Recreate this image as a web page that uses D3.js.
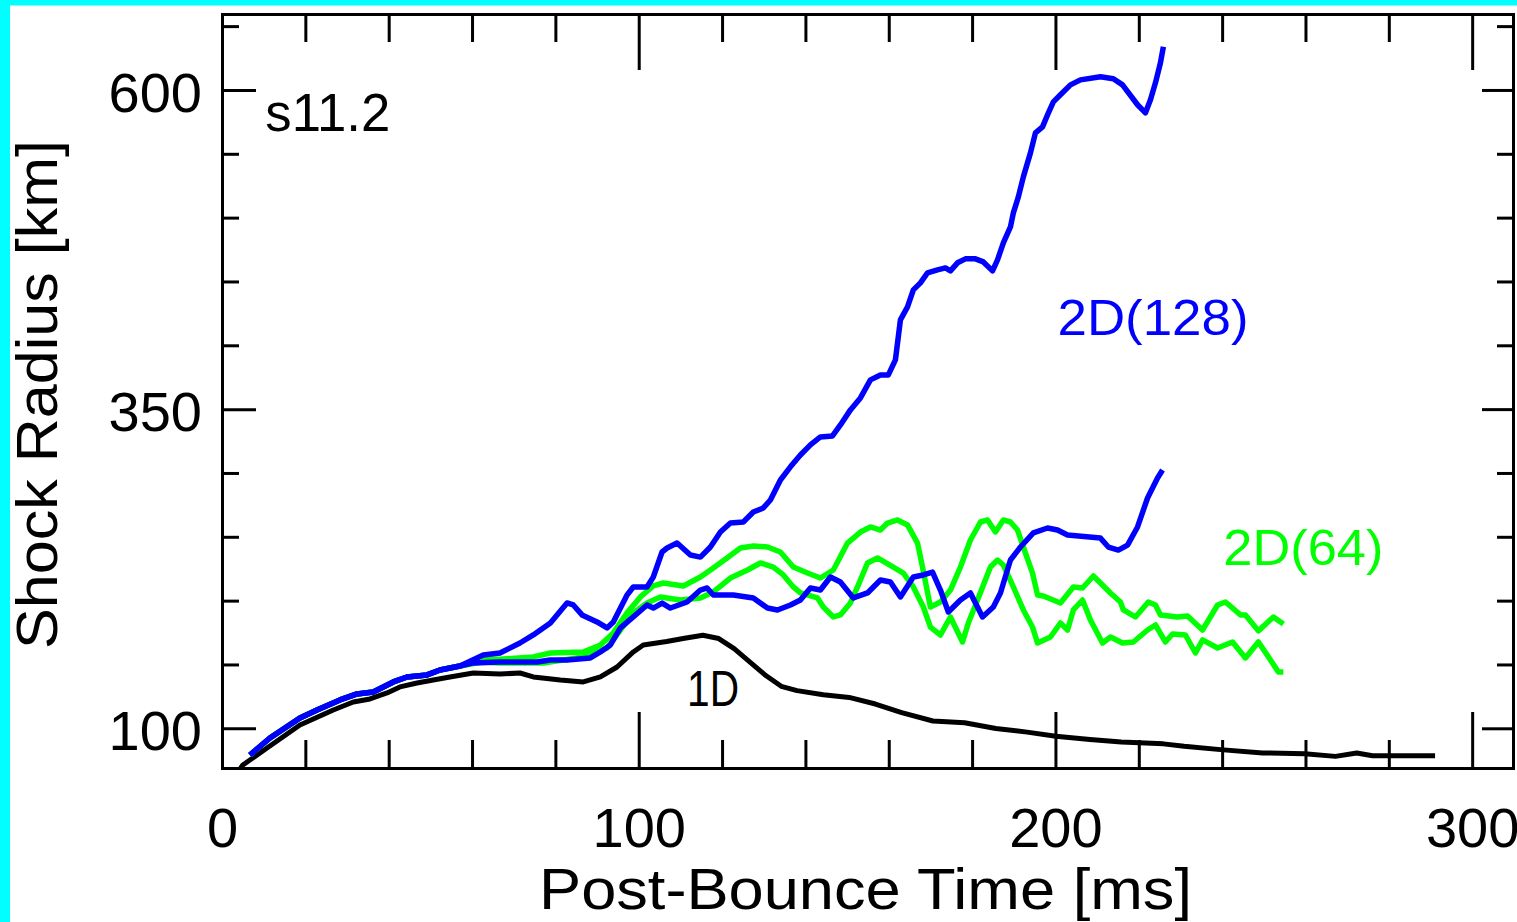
<!DOCTYPE html>
<html><head><meta charset="utf-8">
<script src="https://cdn.jsdelivr.net/npm/d3@7"></script>
<style>html,body{margin:0;padding:0;background:#fff;overflow:hidden}</style>
</head><body><svg id="chart" width="1517" height="922"></svg>
<script>
// ---------- DATA ----------
// 1D run
const t1D = [4.3, 5.0, 10.8, 18.7, 26.7, 31.5, 35.5, 39.6, 42.7, 46.8, 50.7, 54.7, 60.3, 66.7, 71.5, 74.7, 81.2, 86.7, 90.8, 94.8, 98.7, 101.1, 106.7, 111.0, 115.4, 119.2, 122.9, 126.7, 130.5, 134.2, 138.0, 144.3, 150.5, 156.8, 163.1, 170.6, 178.2, 185.7, 193.2, 200.1, 208.3, 215.8, 225.9, 230.9, 239.6, 249.7, 259.8, 267.2, 272.3, 276.1, 291.1];
const r1D = [68.0, 71.3, 84.6, 102.6, 114.3, 120.6, 123.0, 127.7, 132.4, 135.5, 137.8, 140.2, 143.3, 142.5, 143.3, 140.2, 137.8, 136.3, 140.2, 148.0, 159.8, 165.3, 168.0, 170.5, 172.9, 170.3, 162.4, 151.9, 141.3, 132.9, 129.5, 126.3, 124.2, 119.0, 112.3, 105.7, 104.4, 99.9, 97.0, 93.8, 91.2, 89.3, 87.8, 85.9, 83.3, 80.7, 80.1, 78.0, 80.7, 78.5, 78.5];

// 2D(128), upper curve
const t128a = [6.7, 11.5, 18.7, 22.8, 28.3, 32.4, 36.3, 41.1, 44.4, 49.2, 52.3, 57.1, 62.7, 66.7, 71.5, 74.7, 78.8, 82.8, 84.3, 86.4, 90.0, 92.4, 93.9, 97.2, 98.7, 102.0, 103.5, 105.6, 106.8, 109.2, 112.4, 114.8, 117.2, 119.6, 122.0, 125.1, 127.5, 129.9, 131.6, 134.0, 136.4, 138.8, 141.2, 143.6, 146.5, 148.4, 150.8, 153.2, 155.6, 158.0, 159.9, 161.6, 162.8, 164.5, 165.9, 167.6, 169.3, 171.7, 173.6, 174.8, 176.5, 178.4, 180.8, 182.7, 184.9, 186.1, 187.5, 189.2, 189.9, 191.1, 192.3, 194.0, 195.2, 196.9, 198.1, 199.5, 201.2, 203.6, 206.0, 210.8, 213.9, 216.1, 219.7, 221.6, 222.8, 224.0, 225.2, 225.9];
const r128a = [79.1, 92.4, 108.1, 114.3, 122.2, 126.9, 128.4, 136.3, 140.2, 141.8, 145.7, 148.8, 157.4, 159.0, 166.8, 173.1, 182.5, 198.2, 196.6, 188.8, 183.3, 178.6, 183.3, 204.4, 210.7, 210.7, 218.5, 238.1, 241.2, 245.1, 235.7, 234.1, 242.0, 253.7, 260.8, 261.6, 269.4, 272.6, 278.8, 294.5, 304.8, 314.1, 322.0, 328.2, 329.0, 337.6, 349.4, 358.8, 372.9, 376.8, 376.8, 388.6, 419.9, 430.1, 443.4, 448.9, 456.7, 459.1, 460.6, 458.3, 464.6, 467.7, 467.7, 465.3, 458.3, 466.9, 480.2, 492.7, 503.7, 516.2, 531.9, 550.7, 566.4, 571.1, 580.5, 590.7, 596.2, 604.0, 607.9, 610.3, 608.8, 604.0, 588.4, 582.1, 592.3, 605.6, 621.3, 633.8];

// 2D(128), lower curve
const t128b = [6.7, 11.5, 18.7, 22.8, 28.3, 32.4, 36.3, 41.1, 44.4, 49.2, 52.3, 57.1, 60.3, 66.7, 75.6, 78.8, 82.8, 88.4, 90.8, 93.2, 95.6, 98.7, 102.0, 103.5, 105.6, 107.6, 111.6, 114.8, 116.4, 117.9, 122.7, 127.5, 130.9, 133.3, 136.4, 138.8, 141.2, 143.6, 146.0, 148.4, 151.5, 154.9, 158.0, 160.4, 162.8, 165.9, 168.3, 170.5, 172.4, 174.3, 177.2, 179.6, 182.5, 185.1, 186.8, 189.2, 191.6, 194.7, 198.1, 200.5, 202.9, 210.8, 212.7, 215.1, 217.3, 219.7, 222.1, 224.5, 225.7];
const r128b = [79.1, 92.4, 108.1, 114.3, 122.2, 126.9, 128.4, 136.3, 140.2, 141.8, 145.7, 148.8, 151.2, 151.9, 151.9, 153.5, 153.5, 155.1, 159.8, 165.3, 178.6, 187.2, 196.6, 194.2, 198.1, 194.2, 198.9, 208.3, 209.9, 204.4, 204.4, 202.1, 194.2, 192.7, 196.6, 200.5, 209.9, 208.3, 218.5, 214.6, 202.1, 206.0, 216.2, 214.6, 202.9, 218.5, 220.1, 222.4, 208.3, 191.1, 200.5, 206.0, 187.2, 195.0, 206.0, 231.8, 242.0, 253.0, 256.9, 255.3, 251.4, 249.0, 242.0, 239.6, 243.5, 257.7, 280.4, 296.0, 302.3];

// 2D(64), upper curve
const t64a = [6.7, 11.5, 18.7, 22.8, 28.3, 32.4, 36.3, 41.1, 44.4, 49.2, 52.3, 57.1, 62.7, 66.7, 74.7, 78.8, 86.7, 90.8, 93.9, 97.2, 100.4, 103.5, 105.9, 110.7, 114.8, 117.9, 121.2, 124.4, 127.5, 130.9, 134.0, 137.1, 140.5, 143.6, 146.7, 150.1, 153.2, 155.6, 158.0, 159.7, 162.1, 164.5, 166.9, 168.1, 170.0, 172.4, 174.8, 177.2, 179.6, 182.0, 183.7, 185.6, 187.5, 189.2, 190.9, 192.8, 194.5, 195.7, 197.1, 201.2, 204.3, 206.5, 209.1, 210.8, 213.2, 215.6, 216.3, 219.2, 222.3, 224.0, 225.2, 229.3, 231.7, 235.3, 238.9, 240.8, 244.4, 245.6, 248.7, 252.3, 254.7];
const r64a = [79.1, 92.4, 108.1, 114.3, 122.2, 126.9, 128.4, 136.3, 140.2, 141.8, 145.7, 148.8, 154.0, 154.0, 155.9, 159.0, 159.8, 165.3, 174.7, 190.4, 202.9, 211.5, 213.8, 211.5, 218.5, 225.6, 233.4, 241.2, 242.8, 242.0, 238.1, 226.3, 221.6, 217.7, 224.0, 245.1, 253.7, 257.7, 255.3, 260.8, 263.2, 259.3, 245.1, 226.3, 195.0, 198.9, 208.3, 226.3, 247.5, 261.6, 263.2, 253.8, 263.2, 261.6, 255.3, 237.3, 221.6, 204.4, 203.6, 198.1, 210.7, 209.9, 219.3, 213.8, 206.0, 198.9, 192.7, 187.2, 198.9, 196.6, 188.8, 187.2, 188.0, 177.0, 196.6, 198.9, 188.8, 188.8, 176.3, 187.2, 181.7];

// 2D(64), lower curve
const t64b = [6.7, 11.5, 18.7, 22.8, 28.3, 32.4, 36.3, 41.1, 44.4, 49.2, 52.3, 57.1, 62.7, 66.7, 77.1, 86.7, 92.4, 95.6, 98.7, 102.0, 105.2, 110.0, 114.8, 117.9, 122.0, 126.1, 129.2, 132.3, 134.7, 137.1, 138.8, 142.9, 144.3, 146.7, 148.4, 150.8, 152.5, 154.9, 157.3, 161.1, 163.5, 165.9, 168.3, 170.0, 172.4, 174.8, 177.7, 179.1, 181.3, 184.4, 186.1, 187.5, 189.9, 192.3, 194.5, 195.7, 198.8, 201.2, 202.9, 204.3, 206.5, 208.4, 211.3, 213.2, 216.1, 218.7, 222.1, 224.0, 226.4, 228.1, 231.2, 233.6, 235.3, 238.9, 242.5, 245.6, 248.7, 251.6, 253.5, 254.7];
const r64b = [79.1, 92.4, 108.1, 114.3, 122.2, 126.9, 128.4, 136.3, 140.2, 141.8, 145.7, 148.8, 152.0, 151.2, 151.2, 155.9, 162.9, 177.0, 190.4, 198.2, 202.9, 200.5, 202.1, 206.8, 217.7, 224.0, 229.5, 226.3, 220.1, 210.7, 206.0, 202.1, 195.0, 187.2, 188.8, 198.2, 210.7, 229.5, 233.4, 226.3, 221.6, 210.7, 195.0, 179.3, 173.1, 187.2, 167.6, 182.5, 200.5, 226.3, 231.8, 227.9, 210.7, 192.7, 179.3, 166.8, 171.5, 182.5, 177.0, 192.7, 200.5, 184.9, 166.8, 171.5, 166.8, 167.6, 177.0, 180.9, 167.6, 173.9, 173.1, 159.0, 169.2, 162.9, 167.6, 155.1, 167.6, 153.5, 144.1, 144.1];

// ticks and labels
const xMinorTicks = [20, 40, 60, 80, 120, 140, 160, 180, 220, 240, 260, 280];
const xMajorTicks = [0, 100, 200, 300];
const xTickLabels = ["0", "100", "200", "300"];
const yMinorTicks = [150, 200, 250, 300, 400, 450, 500, 550, 650];
const yMajorTicks = [100, 350, 600];
const yTickLabels = ["100", "350", "600"];
const xTitle = "Post-Bounce Time [ms]";
const yTitle = "Shock Radius [km]";
const modelLabel = "s11.2";
const seriesLabels = ["1D", "2D(128)", "2D(64)"];

// ---------- DRAWING ----------
const W = 1517, H = 922;
const FONT = "'Liberation Sans', Arial, sans-serif";
const svg = d3.select("#chart");
svg.append("rect").attr("width", W).attr("height", H).attr("fill", "#fff");
svg.append("rect").attr("x", 0).attr("y", 0).attr("width", W).attr("height", 5.5).attr("fill", "#00ffff");
svg.append("rect").attr("x", 0).attr("y", 0).attr("width", 10).attr("height", H).attr("fill", "#00ffff");

const x = d3.scaleLinear().domain([0, 309.8]).range([222, 1513]);
const y = d3.scaleLinear().domain([68.9, 659.5]).range([768, 14]);
const [X0, X1] = x.range();
const [Y0, Y1] = y.range();

svg.append("defs").append("clipPath").attr("id", "plotclip")
  .append("rect").attr("x", X0).attr("y", Y1).attr("width", X1 - X0).attr("height", Y0 - Y1);

const line = d3.line().x(d => x(d[0])).y(d => y(d[1]));
const plot = svg.append("g").attr("clip-path", "url(#plotclip)");
function drawSeries(t, r, color, w) {
  plot.append("path").datum(d3.zip(t, r)).attr("d", line)
    .attr("fill", "none").attr("stroke", color).attr("stroke-width", w)
    .attr("stroke-linejoin", "round");
}
drawSeries(t1D, r1D, "#000000", 5);
drawSeries(t64a, r64a, "#00ff00", 5.5);
drawSeries(t64b, r64b, "#00ff00", 5.5);
drawSeries(t128b, r128b, "#0000ff", 5.5);
drawSeries(t128a, r128a, "#0000ff", 5.5);

// frame + ticks via d3 axes
function tickAxis(gen, values, size, tx, ty) {
  const g = svg.append("g").attr("transform", `translate(${tx},${ty})`)
    .call(gen.tickValues(values).tickSize(size).tickSizeOuter(0).tickFormat(""));
  g.selectAll("line").attr("stroke", "#000").attr("stroke-width", 3);
  g.select(".domain").attr("stroke", "#000").attr("stroke-width", 3).attr("stroke-linecap", "square");
  return g;
}
tickAxis(d3.axisBottom(x), xMinorTicks, -28, 0, Y0);
tickAxis(d3.axisBottom(x), xMajorTicks, -56, 0, Y0);
tickAxis(d3.axisTop(x), xMinorTicks, -28, 0, Y1);
tickAxis(d3.axisTop(x), xMajorTicks, -56, 0, Y1);
tickAxis(d3.axisLeft(y), yMinorTicks, -17, X0, 0);
tickAxis(d3.axisLeft(y), yMajorTicks, -34, X0, 0);
tickAxis(d3.axisRight(y), yMinorTicks, -16, X1, 0);
tickAxis(d3.axisRight(y), yMajorTicks, -31, X1, 0);

// tick labels
const xl = svg.append("g").attr("transform", `translate(0,${Y0})`)
  .call(d3.axisBottom(x).tickValues(xMajorTicks).tickSize(0).tickPadding(39).tickFormat((d, i) => xTickLabels[i]));
xl.select(".domain").remove();
xl.attr("font-family", FONT).attr("font-size", 56);
xl.selectAll("text").attr("fill", "#000");

const yl = svg.append("g").attr("transform", `translate(${X0},0)`)
  .call(d3.axisLeft(y).tickValues(yMajorTicks).tickSize(0).tickPadding(20).tickFormat((d, i) => yTickLabels[i]));
yl.select(".domain").remove();
yl.attr("font-family", FONT).attr("font-size", 56);
yl.selectAll("text").attr("fill", "#000").attr("dy", "0.38em");

// titles
svg.append("text").attr("x", 539).attr("y", 909).attr("font-family", FONT).attr("font-size", 57)
  .attr("textLength", 653).attr("lengthAdjust", "spacingAndGlyphs").attr("fill", "#000").text(xTitle);
svg.append("text").attr("transform", "translate(57,649) rotate(-90)").attr("font-family", FONT).attr("font-size", 57)
  .attr("textLength", 509).attr("lengthAdjust", "spacingAndGlyphs").attr("fill", "#000").text(yTitle);

// in-plot labels
function label(txt, px, py, len, color, size) {
  svg.append("text").attr("x", px).attr("y", py).attr("font-family", FONT).attr("font-size", size)
    .attr("textLength", len).attr("lengthAdjust", "spacingAndGlyphs").attr("fill", color).text(txt);
}
label(modelLabel, x(10.4), y(567.9), 125, "#000", 53);
label(seriesLabels[0], x(111.6), y(117.5), 52, "#000", 50);
label(seriesLabels[1], x(200.5), y(408.1), 191, "#0000ff", 50);
label(seriesLabels[2], x(240.3), y(227.9), 160, "#00ff00", 50);
</script></body></html>
